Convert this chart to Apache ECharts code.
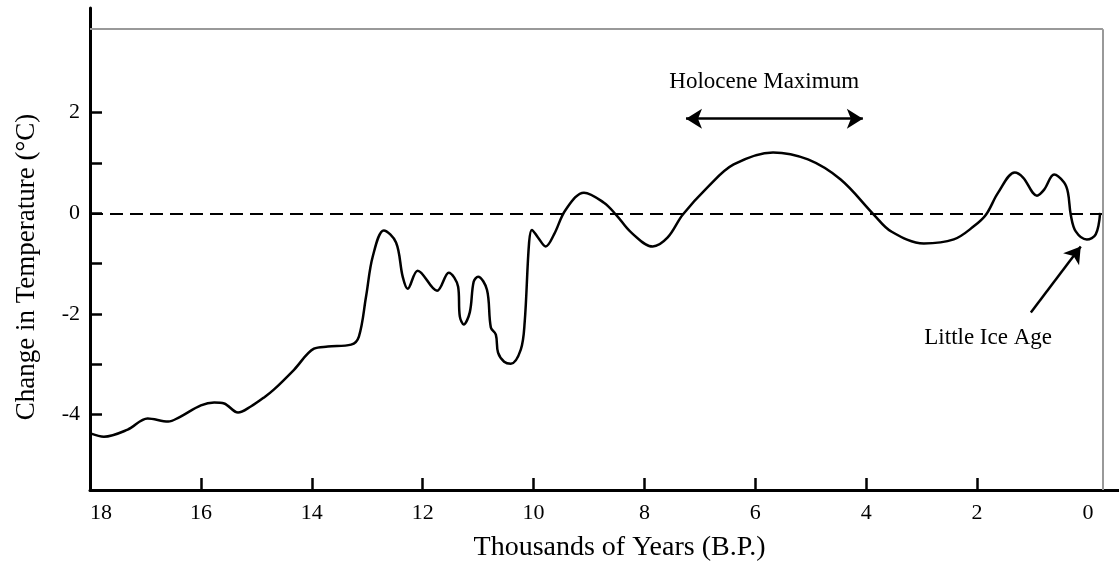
<!DOCTYPE html>
<html><head><meta charset="utf-8">
<script src="https://cdn.jsdelivr.net/npm/echarts@6/dist/echarts.min.js"></script>
<style>html,body{margin:0;padding:0;background:#fff}#c{width:1119px;height:565px}</style>
</head><body><div id="c"></div>
<script>
// Thousands of years before present
const years = [17.98,17.75,17.32,16.96,16.59,16.40,16.00,15.76,15.58,15.33,15.10,14.86,14.68,14.32,13.96,13.71,13.29,13.15,13.02,12.90,12.70,12.48,12.36,12.27,12.09,11.74,11.53,11.36,11.33,11.26,11.15,11.08,11.00,10.84,10.77,10.68,10.64,10.53,10.41,10.23,10.16,10.08,10.03,9.92,9.78,9.63,9.42,9.09,8.73,8.51,8.24,7.85,7.58,7.31,6.85,6.39,5.68,5.05,4.46,3.86,3.55,2.96,2.42,2.06,1.84,1.62,1.32,1.17,0.92,0.79,0.61,0.43,0.36,0.31,0.22,0.02,-0.14,-0.22];
// Change in temperature (°C)
const temps = [-4.38,-4.44,-4.30,-4.08,-4.14,-4.06,-3.82,-3.76,-3.78,-3.96,-3.84,-3.66,-3.50,-3.11,-2.69,-2.65,-2.61,-2.45,-1.65,-0.86,-0.34,-0.58,-1.26,-1.50,-1.14,-1.54,-1.18,-1.46,-2.05,-2.21,-1.97,-1.36,-1.26,-1.52,-2.27,-2.41,-2.77,-2.95,-2.99,-2.71,-2.17,-0.58,-0.33,-0.48,-0.66,-0.42,0.07,0.41,0.21,-0.03,-0.38,-0.66,-0.48,-0.03,0.53,0.97,1.21,1.07,0.67,-0.03,-0.36,-0.60,-0.52,-0.26,-0.03,0.41,0.81,0.71,0.35,0.47,0.77,0.61,0.41,-0.03,-0.36,-0.52,-0.42,0.01];

const xTickValues = [16,14,12,10,8,6,4,2];
const xLabelValues = [18,16,14,12,10,8,6,4,2,0];
const yTickValues = [-4,-3,-2,-1,0,1,2];
const yLabelValues = [-4,-2,0,2];

const frameRight = -0.27;
const frameTop = 3.66;
const holoceneArrow = [[7.25,1.88],[4.06,1.88]];
const holoceneText = ['Holocene Maximum', 5.84, 2.62];
const liaArrow = [[1.03,-1.97],[0.13,-0.66]];
const liaText = ['Little Ice Age', 1.80, -2.47];

const FONT = 'Liberation Serif';
const chart = echarts.init(document.getElementById('c'), null, {renderer:'canvas'});
const data = years.map((y,i)=>[y,temps[i]]);

chart.setOption({
  animation:false,
  backgroundColor:'#fff',
  grid:{left:90,right:0,top:8,bottom:75,containLabel:false,outerBoundsMode:'none'},
  xAxis:{
    type:'value', inverse:true, min:-0.56, max:18,
    name:'Thousands of Years (B.P.)', nameLocation:'middle', nameGap:44,
    nameTextStyle:{fontFamily:FONT,fontSize:28,color:'#000',padding:[0,0,0,30]},
    axisLine:{onZero:false,lineStyle:{color:'#000',width:3}},
    axisTick:{show:true,inside:true,length:12,customValues:xTickValues,lineStyle:{color:'#000',width:2.5}},
    axisLabel:{customValues:xLabelValues,fontFamily:FONT,fontSize:22,color:'#000',margin:12,
      formatter:v=> v===18 ? '{s|18}' : String(v),
      rich:{s:{fontFamily:FONT,fontSize:22,color:'#000',padding:[0,0,0,22]}}},
    splitLine:{show:false}
  },
  yAxis:{
    type:'value', min:-5.5, max:4.08,
    name:'Change in Temperature (°C)', nameLocation:'middle', nameGap:50,
    nameTextStyle:{fontFamily:FONT,fontSize:27,color:'#000',padding:[0,36,0,0]},
    axisLine:{onZero:false,lineStyle:{color:'#000',width:3}},
    axisTick:{show:true,inside:true,length:12,customValues:yTickValues,lineStyle:{color:'#000',width:2.5}},
    axisLabel:{customValues:yLabelValues,fontFamily:FONT,fontSize:22,color:'#000',margin:10},
    splitLine:{show:false}
  },
  series:[{
    type:'line', data:data, smooth:0.35, showSymbol:false, symbol:'none',
    lineStyle:{color:'#000',width:2.5}, z:3,
    markLine:{
      silent:true, symbol:['none','none'], label:{show:false},
      data:[
        [{coord:[18,0],lineStyle:{color:'#000',width:2.2,type:[13,7]}},{coord:[frameRight,0]}],
        [{coord:[18,frameTop],lineStyle:{color:'#999',width:2,type:'solid'}},{coord:[frameRight,frameTop]}],
        [{coord:[frameRight,frameTop],lineStyle:{color:'#999',width:2,type:'solid'}},{coord:[frameRight,-5.5]}],
        [{coord:holoceneArrow[0],symbol:'arrow',symbolSize:[15,16],lineStyle:{color:'#000',width:2.5,type:'solid'}},{coord:holoceneArrow[1],symbol:'arrow',symbolSize:[15,16]}],
        [{coord:liaArrow[0],symbol:'none',lineStyle:{color:'#000',width:2.5,type:'solid'}},{coord:liaArrow[1],symbol:'arrow',symbolSize:[15,16]}]
      ]
    },
    markPoint:{
      silent:true, symbol:'circle', symbolSize:0,
      label:{show:true,position:'inside',formatter:'{b}',fontFamily:FONT,fontSize:23,color:'#000'},
      data:[
        {name:holoceneText[0],coord:[holoceneText[1],holoceneText[2]]},
        {name:liaText[0],coord:[liaText[1],liaText[2]]}
      ]
    }
  }]
});
</script></body></html>
